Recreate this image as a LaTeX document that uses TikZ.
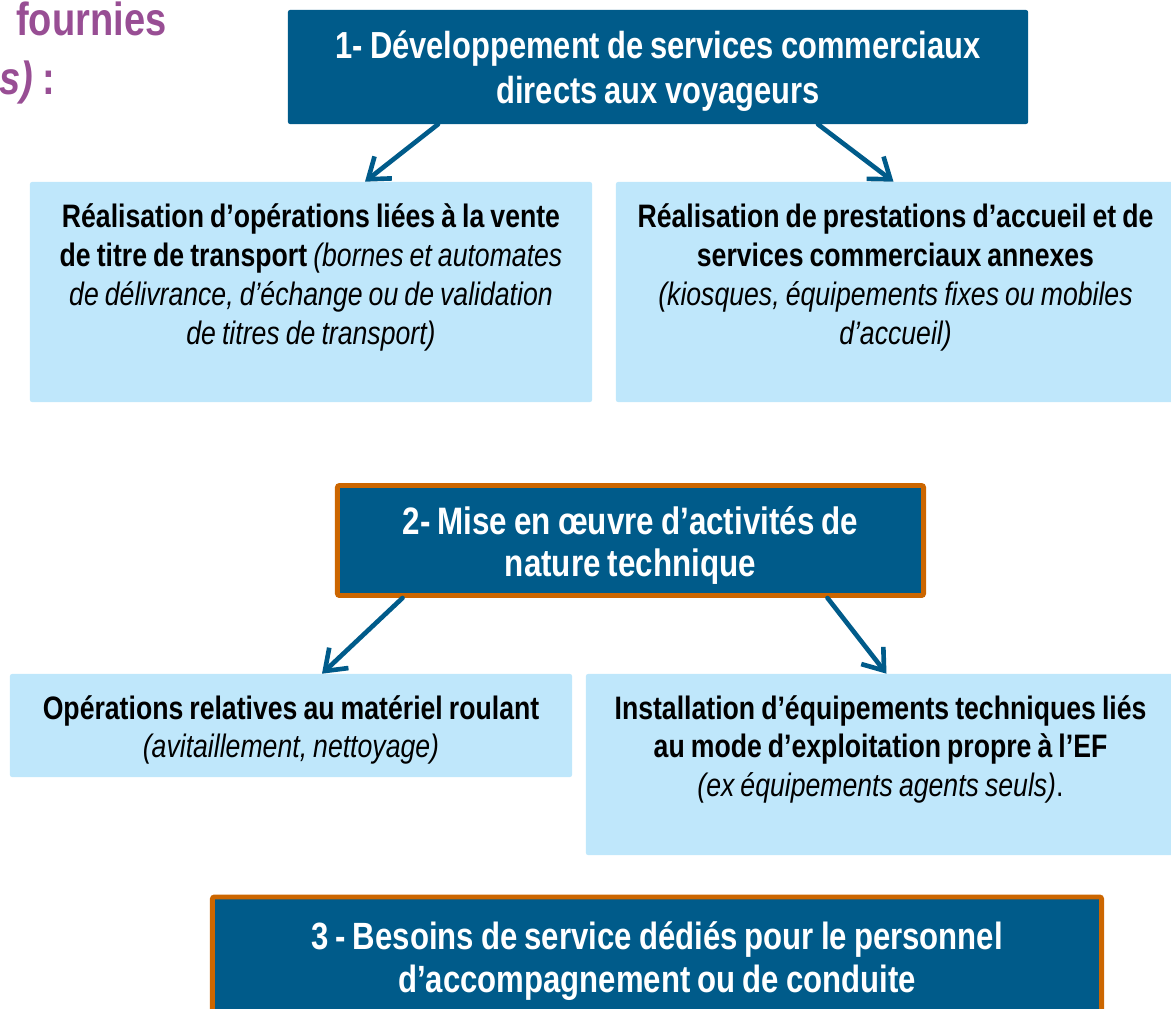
\documentclass[tikz,border=0pt]{standalone}
\usepackage{fontspec}
\setmainfont{Liberation Sans}[FakeStretch=0.82, WordSpace=0.82]
\usepackage{tikz}
\usetikzlibrary{arrows.meta,positioning,calc}
\definecolor{railblue}{HTML}{005B8A}
\definecolor{raillight}{HTML}{BFE7FB}
\definecolor{railorange}{HTML}{CC6600}
\definecolor{railpurple}{HTML}{984E94}
\tikzstyle{arrow} = [-{Straight Barb[length=4.8mm,width=7mm]}, line width=3.3pt, line cap=round, line join=round, railblue]
\tikzstyle{darkbox} = [fill=railblue, rounded corners=1.5pt, inner sep=0pt]
\tikzstyle{framedbox} = [darkbox, draw=railorange, line width=3.5pt]
\tikzstyle{headtext} = [text=white, align=flush center, inner sep=0pt]
\tikzstyle{lightbox} = [fill=raillight, rounded corners=1.5pt, inner sep=0pt]
\tikzstyle{bodytext} = [text=black, align=flush center, inner sep=0pt, font=\fontsize{23.1}{27.7}\selectfont]
\tikzstyle{purpletext} = [text=railpurple, inner sep=0pt, font=\bfseries\fontsize{33}{36}\selectfont]

\begin{document}
\begin{tikzpicture}[x=0.025cm, y=-0.025cm]
\useasboundingbox (0,0) rectangle (1171,1008);
\clip (0,0) rectangle (1171,1008);
% heading, cut by the frame
\node[purpletext, anchor=base west] at (16,35) (title1) {fournies};
\node[purpletext, anchor=base east] at (55,94) (title2) {\textit{s)} :};
% first group
\node[darkbox, minimum width=18.5cm, minimum height=2.85cm] at (658,67) (b1) {};
\node[headtext, yshift=-0.11cm, font=\bfseries\fontsize{26.8}{32}\selectfont] at (b1.center) (b1text) {1- Développement de services commerciaux\\directs aux voyageurs};
\node[lightbox, minimum width=14.05cm, minimum height=5.5cm] at (311,292) (l1) {};
\node[lightbox, minimum width=13.975cm, minimum height=5.5cm] at (895.5,292) (r1) {};
\node[bodytext, text width=13.8cm, below=0.55cm of l1.north] (l1text) {\textbf{Réalisation d’opérations liées à la vente}\\\textbf{de titre de transport} \textit{(bornes et automates}\\\textit{de délivrance, d’échange ou de validation}\\\textit{de titres de transport)}};
\node[bodytext, text width=13.8cm, below=0.55cm of r1.north] (r1text) {\textbf{Réalisation de prestations d’accueil et de}\\\textbf{services commerciaux annexes}\\\textit{(kiosques, équipements fixes ou mobiles}\\\textit{d’accueil)}};
\draw[arrow] ($(b1.south)+(-220,0)$) -- ($(l1.north)+(54,0)$);
\draw[arrow] ($(b1.south)+(160,0)$) -- ($(r1.north)+(-2,0)$);
% second group
\node[framedbox, minimum width=14.65cm, minimum height=2.75cm] at (630.5,540.5) (b2) {};
\node[headtext, yshift=-0.12cm, font=\bfseries\fontsize{27.2}{29.6}\selectfont] at (b2.center) (b2text) {2- Mise en œuvre d’activités de\\nature technique};
\node[lightbox, minimum width=14.05cm, minimum height=2.575cm] at (291,725.5) (l2) {};
\node[lightbox, minimum width=14.725cm, minimum height=4.525cm] at (880.5,764.5) (r2) {};
\node[bodytext, text width=13.8cm, below=0.53cm of l2.north] (l2text) {\textbf{Opérations relatives au matériel roulant}\\\textit{(avitaillement, nettoyage)}};
\node[bodytext, text width=14.2cm, below=0.53cm of r2.north] (r2text) {\textbf{Installation d’équipements techniques liés}\\\textbf{au mode d’exploitation propre à l’EF}\\\textit{(ex équipements agents seuls)}.};
\draw[arrow] ($(b2.south)+(-228,0)$) -- ($(l2.north)+(31,0)$);
\draw[arrow] ($(b2.south)+(197,0)$) -- ($(r2.north)+(6,0)$);
% third group
\node[framedbox, minimum width=22.225cm, minimum height=3.2cm] at (657,961) (b3) {};
\node[headtext, font=\bfseries\fontsize{27}{30}\selectfont] at (b3.center) (b3text) {3 - Besoins de service dédiés pour le personnel\\d’accompagnement ou de conduite};
\end{tikzpicture}
\end{document}
